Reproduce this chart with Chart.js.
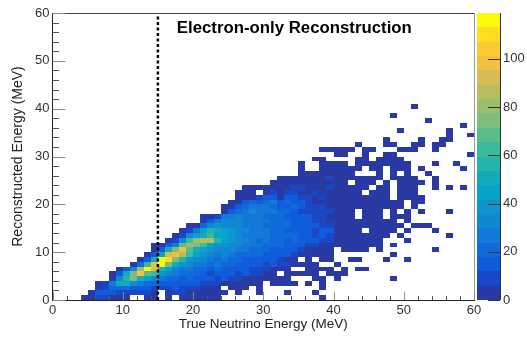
<!DOCTYPE html>
<html>
<head>
<meta charset="utf-8">
<title>Electron-only Reconstruction</title>
<script src="https://cdn.jsdelivr.net/npm/chart.js@4/dist/chart.umd.min.js"></script>
<style>
  html, body { margin: 0; padding: 0; background: #fff; }
  canvas { display: block; }
</style>
</head>
<body>
<canvas id="hist" width="527" height="350"></canvas>
<script>
// first filled x bin (1 MeV wide) of every y bin
const rowStart = [4, 5, 6, 6, 8, 8, 9, 11, 12, 13, 14, 14, 16, 17, 18, 19, 21, 21, 24, 24, 25, 26, 26, 27, 31, 32, 35, 35, 35, 37, 40, 38, 43, 47, 56, 49, 58, 53, 48, 0, 51];

// counts, one array per y bin, bottom row first
const rowCounts = [
  [3,5,9,9,5,4,3,0,0,4,3,0,2,0,2,2,2,2,2,2,0,0,0,0,0,0,0,0,0,0,0,0,0,0,1],
  [3,14,14,14,10,10,8,8,8,5,0,5,6,7,5,5,4,3,2,2,0,2,0,0,2,0,0,0,1,0,0,0,1],
  [4,9,20,20,20,15,14,14,9,9,8,14,8,8,6,5,5,4,0,2,2,2,0,2,0,0,0,0,0,0,0,0,1],
  [5,10,28,50,50,32,26,20,20,15,14,14,14,14,14,8,8,8,5,5,4,4,3,3,0,2,2,2,1,0,1,0,1],
  [5,32,58,74,50,44,32,26,20,20,14,20,14,14,14,8,14,8,8,5,5,4,4,3,3,2,0,0,0,1,1,0,1,0,0,0,0,0,0,0,1],
  [3,14,50,74,98,68,62,38,32,26,20,20,20,14,8,14,14,14,8,14,8,8,5,4,0,3,2,2,2,1,0,1,1,1],
  [4,14,32,80,116,92,56,44,32,26,26,20,20,14,20,14,14,14,14,8,8,8,5,5,4,0,0,2,2,1,1,0,1,0,1,1],
  [3,20,62,98,116,74,50,38,32,26,26,20,26,20,20,14,14,14,14,8,14,8,8,5,4,3,2,0,0,1],
  [3,14,50,116,110,74,56,38,32,32,26,20,26,20,20,14,14,14,14,14,8,5,3,0,2,0,1,1,0,0,1,1,0,0,0,1,0,0,1],
  [3,14,44,92,98,86,62,44,38,32,26,32,26,20,20,20,20,14,14,14,14,8,5,4,3,2,2,0,0,0,0,0,0,0,0,1],
  [3,14,50,74,98,68,50,44,38,32,32,32,26,26,20,20,20,14,14,14,14,8,5,4,3,3,0,1,2,1,1,0,1,0,0,0,0,0,0,0,1],
  [3,5,14,26,68,80,74,62,44,38,38,32,32,26,26,26,20,20,20,14,14,14,8,8,5,4,3,2,2,2,2,1,1,0,1],
  [3,8,32,62,80,86,86,56,44,38,32,32,26,20,26,20,20,14,20,14,14,14,8,8,5,4,3,3,2,2,1,0,0,0,1],
  [3,8,32,44,50,62,44,44,38,32,26,26,26,26,20,20,20,20,14,14,8,14,8,4,3,3,2,2,2,1,1,0,1,0,0,0,0,0,0,1],
  [3,8,26,44,56,50,44,38,32,32,26,26,26,20,20,14,14,14,14,8,14,14,5,3,2,2,0,2,2,1,1,0,1,0,0,0,1],
  [3,4,20,32,38,32,32,32,26,26,26,20,20,20,20,14,14,14,14,8,8,5,3,2,2,1,1,1,1,1,1,0,1,1,1],
  [3,14,26,32,32,32,26,26,26,26,20,20,20,14,14,14,8,8,5,5,3,2,2,2,1,1,1,1,0,1],
  [3,3,8,26,26,32,26,26,26,20,20,20,14,14,14,14,8,8,5,5,3,2,0,2,2,1,0,1,1,1],
  [3,14,20,26,32,26,26,26,20,20,14,8,8,8,8,8,4,2,2,0,2,2,1,0,1,0,1,0,1,0,0,0,1],
  [3,5,14,20,26,26,26,20,14,14,20,14,8,8,8,5,4,2,2,2,2,2,2,1,1,1,0,1],
  [3,5,14,20,14,20,26,14,20,14,14,8,5,4,4,3,2,2,2,2,2,1,1,1,1,0,1,1],
  [3,5,5,8,14,14,4,14,14,8,8,4,8,3,3,1,1,1,1,1,1,1,0,1,1,1,1],
  [2,2,3,0,5,8,3,8,8,3,3,8,3,2,2,1,1,1,0,1,1,1,0,1,1,1],
  [2,2,2,2,2,2,2,10,10,3,2,2,10,2,1,1,1,1,0,1,1,0,1,1,1,0,0,1,0,1,0,1],
  [1,2,2,2,1,2,2,2,1,2,1,0,1,1,1,0,1,0,1,1,1,1,0,1],
  [1,1,2,1,2,1,2,10,2,1,1,1,1,1,1,0,1,1,1,1,0,0,1],
  [1,1,1,1,1,1,1,1,0,0,0,1,0,1,0,1,0,0,1],
  [1,0,0,1,1,1,1,1,1,0,1,1,0,1,1,1,0,1,0,0,0,0,0,1],
  [1,0,0,1,1,1,1,0,1,1,1,1,1,1,1,1,0,0,0,1,0,0,1],
  [1,1,0,0,0,0,1,1,0,1,1,1,1],
  [1,1,0,0,1,0,0,1,1,0,0,0,0,0,0,0,0,0,0,1],
  [1,1,1,1,1,0,1,1,0,0,0,1,1,1,0,0,1],
  [1,0,0,0,1,1,0,0,1,1,0,1,1],
  [1,0,0,0,0,1,0,0,1,1],
  [1,0,0,1],
  [1,0,0,0,0,0,0,1],
  [1],
  [1],
  [1],
  [],
  [1]
];

// ROOT bird palette, 20 contours
const palette = [
  "#2a3aa5", "#1848c6", "#0f5cdd", "#106bda", "#1279d8",
  "#1188d3", "#0c96ce", "#07a3ca", "#14aabc", "#26b4aa",
  "#3ab99b", "#5abc89", "#7dbe7a", "#9bbe6c", "#b9bc5f",
  "#d7bc55", "#f0c041", "#fec832", "#fede20", "#fafa0e"
];

const zMax = 119;
const binWidth = 1;
const cutEnergy = 15;
const xMajor = [0, 10, 20, 30, 40, 50, 60];
const yMajor = [0, 10, 20, 30, 40, 50, 60];
const minorStep = 2;
const zTicks = [0, 20, 40, 60, 80, 100];
const titleText = "Electron-only Reconstruction";

// flatten the rows into points for the dataset
const cells = [];
rowCounts.forEach((row, j) => {
  row.forEach((v, n) => {
    if (v > 0) cells.push({ x: rowStart[j] + n + binWidth / 2, y: j + binWidth / 2, v: v });
  });
});

function levelOf(v) {
  return Math.min(palette.length - 1, Math.floor(v / zMax * palette.length));
}

const histPlugin = {
  id: "histPlugin",
  beforeDatasetsDraw(chart) {
    const { ctx, scales } = chart;
    const x = scales.x, y = scales.y, z = scales.z;
    ctx.save();
    // 셀
    chart.data.datasets[0].data.forEach(c => {
      const x0 = Math.round(x.getPixelForValue(c.x - binWidth / 2));
      const x1 = Math.round(x.getPixelForValue(c.x + binWidth / 2));
      const y0 = Math.round(y.getPixelForValue(c.y + binWidth / 2));
      const y1 = Math.round(y.getPixelForValue(c.y - binWidth / 2));
      ctx.fillStyle = palette[levelOf(c.v)];
      ctx.fillRect(x0, y0, x1 - x0, y1 - y0);
    });
    // colour bar
    const barLeft = chart.chartArea.right + 3;
    const barRight = barLeft + 23;
    palette.forEach((col, k) => {
      const top = Math.round(z.getPixelForValue((k + 1) / palette.length * zMax));
      const bottom = Math.round(z.getPixelForValue(k / palette.length * zMax));
      ctx.fillStyle = col;
      ctx.fillRect(barLeft, top, barRight - barLeft, bottom - top);
    });
    ctx.restore();
  },
  afterDatasetsDraw(chart) {
    const { ctx, scales, chartArea } = chart;
    const x = scales.x, y = scales.y, z = scales.z;
    const barRight = chartArea.right + 26;
    ctx.save();
    ctx.lineWidth = 1;
    // frame
    ctx.strokeStyle = "#444";
    ctx.beginPath();
    ctx.moveTo(chartArea.left, chartArea.top + 0.5);
    ctx.lineTo(chartArea.right, chartArea.top + 0.5);
    ctx.stroke();
    ctx.strokeStyle = "#999";
    ctx.beginPath();
    ctx.moveTo(chartArea.right + 0.5, chartArea.top);
    ctx.lineTo(chartArea.right + 0.5, chartArea.bottom);
    ctx.stroke();
    ctx.strokeStyle = "#333";
    ctx.beginPath();
    ctx.moveTo(barRight + 0.5, chartArea.top);
    ctx.lineTo(barRight + 0.5, chartArea.bottom);
    ctx.stroke();
    // inward ticks
    for (let v = 0; v <= 60; v += minorStep) {
      const isMajorX = xMajor.includes(v);
      const px = Math.round(x.getPixelForValue(v)) + 0.5;
      ctx.strokeStyle = isMajorX ? "#888" : "#555";
      ctx.beginPath();
      ctx.moveTo(px, chartArea.bottom);
      ctx.lineTo(px, chartArea.bottom - (isMajorX ? 8 : 4));
      ctx.stroke();

      const isMajorY = yMajor.includes(v);
      const py = Math.round(y.getPixelForValue(v)) + 0.5;
      ctx.strokeStyle = isMajorY ? "#888" : "#555";
      ctx.beginPath();
      ctx.moveTo(chartArea.left, py);
      ctx.lineTo(chartArea.left + (isMajorY ? 13 : 6.5), py);
      ctx.stroke();
    }
    zTicks.forEach(v => {
      const py = Math.round(z.getPixelForValue(v)) + 0.5;
      ctx.strokeStyle = "#333";
      ctx.beginPath();
      ctx.moveTo(barRight, py);
      ctx.lineTo(barRight - 12, py);
      ctx.stroke();
    });
    // title
    ctx.fillStyle = "#000";
    ctx.font = "bold 16.8px 'Liberation Sans', Arial, sans-serif";
    ctx.textAlign = "left";
    ctx.textBaseline = "alphabetic";
    ctx.fillText(titleText, x.getPixelForValue(17.7), y.getPixelForValue(55.85));
    ctx.restore();
  }
};

const fontFamily = "'Liberation Sans', Arial, sans-serif";

new Chart(document.getElementById("hist").getContext("2d"), {
  type: "scatter",
  data: {
    datasets: [
      {
        label: "counts",
        data: cells,
        pointRadius: 0,
        showLine: false,
      },
      {
        label: "cut",
        data: [{ x: cutEnergy, y: 0 }, { x: cutEnergy, y: 60 }],
        showLine: true,
        pointRadius: 0,
        borderColor: "#000",
        borderWidth: 2.5,
        borderDash: [3, 2.5],
      },
    ],
  },
  options: {
    responsive: false,
    animation: false,
    layout: { padding: { top: 13, left: 0, right: 0, bottom: 0 } },
    plugins: {
      legend: { display: false },
      tooltip: { enabled: false },
    },
    scales: {
      x: {
        type: "linear",
        min: 0,
        max: 60,
        grid: { display: false, drawTicks: false },
        border: { color: "#222" },
        ticks: {
          stepSize: 10,
          maxRotation: 0,
          padding: 3,
          color: "#333",
          font: { family: fontFamily, size: 13 },
        },
        title: {
          display: true,
          text: "True Neutrino Energy (MeV)",
          color: "#222",
          padding: { top: 0, bottom: 18 },
          font: { family: fontFamily, size: 13.5 },
        },
        afterFit(s) { s.height = 50; },
      },
      y: {
        type: "linear",
        min: 0,
        max: 60,
        grid: { display: false, drawTicks: false },
        border: { color: "#222" },
        ticks: {
          stepSize: 10,
          padding: 3,
          color: "#333",
          font: { family: fontFamily, size: 13 },
        },
        title: {
          display: true,
          text: "Reconstructed Energy (MeV)",
          color: "#222",
          padding: { top: 10, bottom: 10 },
          font: { family: fontFamily, size: 14 },
        },
        afterFit(s) { s.width = 52.5; },
      },
      z: {
        type: "linear",
        position: "right",
        min: 0,
        max: zMax,
        grid: { display: false, drawTicks: false, drawOnChartArea: false },
        border: { display: false },
        ticks: {
          stepSize: 20,
          includeBounds: false,
          padding: 29,
          color: "#333",
          font: { family: fontFamily, size: 13 },
        },
        // tick padding would otherwise shrink the chart area from the top
        afterFit(s) { s.width = 53; s.paddingTop = 0; s.paddingBottom = 0; },
      },
    },
  },
  plugins: [histPlugin],
});
</script>
</body>
</html>
